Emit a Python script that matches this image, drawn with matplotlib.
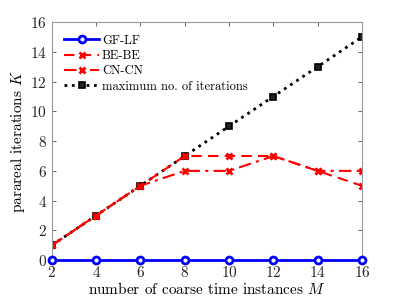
import numpy as np
import matplotlib
matplotlib.use('Agg')
import matplotlib.pyplot as plt

plt.rcParams['font.family'] = 'serif'
plt.rcParams['font.serif'] = ['cmr10']
plt.rcParams['mathtext.fontset'] = 'cm'
plt.rcParams['axes.formatter.use_mathtext'] = True

M      = [2, 4, 6, 8, 10, 12, 14, 16]
gf_lf  = [0, 0, 0, 0, 0, 0, 0, 0]
be_be  = [1, 3, 5, 7, 7, 7, 6, 5]
cn_cn  = [1, 3, 5, 6, 6, 7, 6, 6]
k_max  = [1, 3, 5, 7, 9, 11, 13, 15]

fig = plt.figure(figsize=[3.99, 2.99], dpi=100)
ax = fig.add_axes([0.130, 0.130, 0.777, 0.796])

ax.plot(M, gf_lf, '-o', color='blue', lw=2, ms=5, mfc='white', mew=2, label='GF-LF',
        clip_on=False, zorder=3)
ax.plot(M, be_be, '--x', color='red', lw=1.5, ms=4, mew=2, label='BE-BE', zorder=2.5,
        dashes=(5, 3))
ax.plot(M, cn_cn, '-.x', color='red', lw=1.5, ms=4, mew=2, label='CN-CN', zorder=2.5,
        dashes=(6, 2.5, 1.5, 2.5))
ax.plot(M, k_max, ':s', color='black', lw=2, ms=5, mfc='#222222', mec='black', mew=1.2,
        label='maximum no. of iterations', zorder=2)

ax.set_xlim(2, 16)
ax.set_ylim(0, 16)
ax.set_xticks(np.arange(2, 17, 2))
ax.set_yticks(np.arange(0, 17, 2))
ax.tick_params(direction='in', top=True, right=True, labelsize=11, colors='#262626',
               length=3, width=0.5)
for s in ax.spines.values():
    s.set_color('#999999')
    s.set_linewidth(0.8)
ax.set_xlabel('number of coarse time instances $M$', fontsize=11, labelpad=1)
ax.set_ylabel('parareal iterations $K$', fontsize=11, labelpad=2)
ax.legend(loc='upper left', frameon=False, fontsize=9, handlelength=2.8,
          handletextpad=0.2, labelspacing=0.25, borderaxespad=0.6)

plt.savefig('out.png', dpi=100)
